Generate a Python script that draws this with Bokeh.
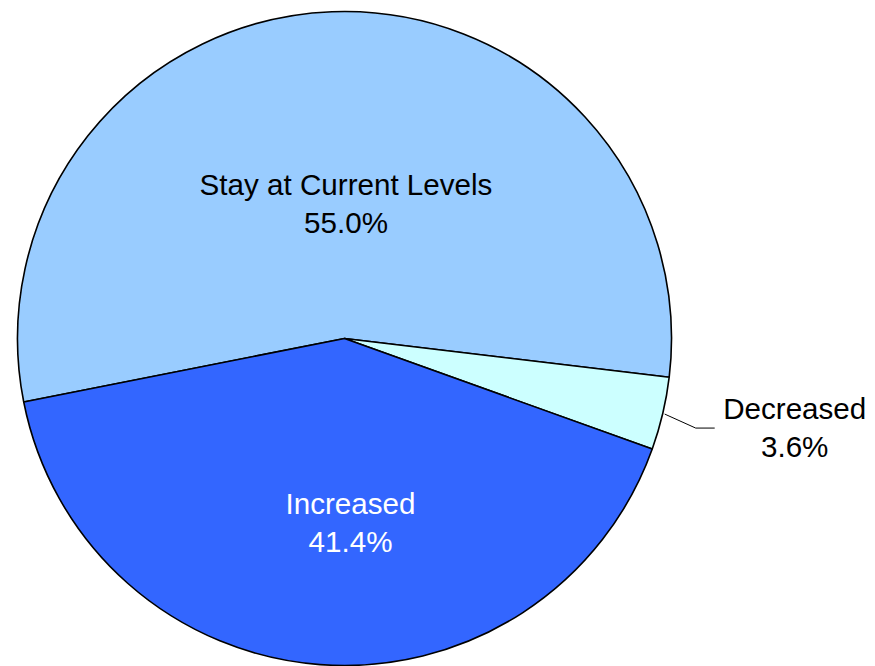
import math

from bokeh.core.properties import value
from bokeh.embed import file_html
from bokeh.models import Range1d
from bokeh.plotting import figure
from bokeh.resources import INLINE

# Survey answers and their shares of respondents (percent)
categories = ["Stay at Current Levels", "Decreased", "Increased"]
shares = [55.0, 3.6, 41.4]
colors = ["#99CCFF", "#CCFFFF", "#3366FF"]
label_colors = ["black", "black", "white"]

W, H = 875, 666
CX, CY = 344, H - 338          # pie centre (data units == pixels)
R = 327                        # pie radius
FIRST_ANGLE = 191.2            # degrees, slices run clockwise from here

# label anchors relative to the pie centre (pixels); None -> outside label
label_offsets = [(1.5, 135), None, (6, -184)]

p = figure(width=W, height=H, x_range=Range1d(0, W), y_range=Range1d(0, H),
           output_backend="svg", toolbar_location=None,
           x_axis_type=None, y_axis_type=None, min_border=0)
p.grid.visible = False
p.outline_line_color = None
p.background_fill_color = "white"

font = value("Liberation Sans")
fsize = "29.6px"
gap = 19

cum = 0.0
for name, share, col, tcol, off in zip(categories, shares, colors, label_colors, label_offsets):
    start = FIRST_ANGLE - cum * 3.6
    end = start - share * 3.6
    cum += share
    p.wedge(x=CX, y=CY, radius=R, start_angle=math.radians(end), end_angle=math.radians(start),
            direction="anticlock", fill_color=col, line_color="black", line_width=1.6)
    pct = f"{share:.1f}%"
    if off is not None:
        ax, ay = CX + off[0], CY + off[1]
    else:
        mid = math.radians((start + end) / 2)
        ex, ey = CX + (R + 2) * math.cos(mid), CY + (R + 2) * math.sin(mid)
        kx, ky = ex + 31, ey - 14
        hx = kx + 19
        p.line([ex, kx, hx], [ey, ky, ky], line_color="black", line_width=1)
        ax, ay = hx + 80, ky + 1
    p.text(x=[ax, ax], y=[ay + gap, ay - gap], text=[name, pct],
           text_align="center", text_baseline="middle",
           text_font=font, text_font_size=fsize, text_color=tcol)

open("out.html", "w").write(file_html(p, INLINE))
